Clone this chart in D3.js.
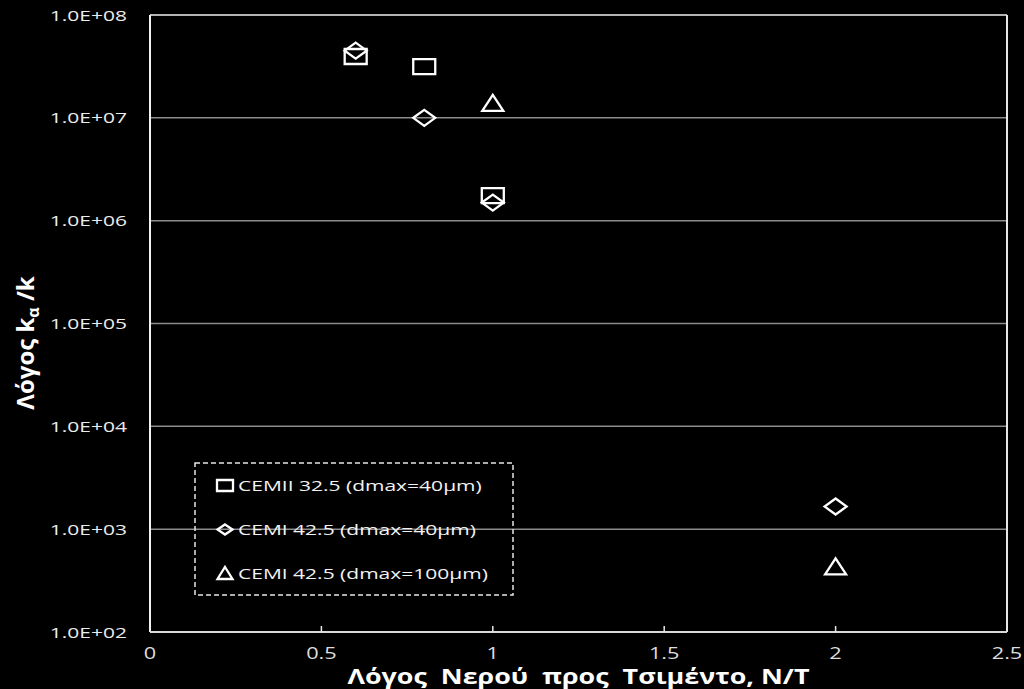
<!DOCTYPE html>
<html>
<head>
<meta charset="utf-8">
<script src="https://cdn.jsdelivr.net/npm/d3@7"></script>
<style>
  html, body { margin: 0; padding: 0; background: #000; }
  svg { display: block; }
</style>
</head>
<body>
<svg id="chart" width="1024" height="689"></svg>
<script>
// series: water/cement ratio vs k_a/k
var seriesNames = ["CEMII 32.5 (dmax=40μm)", "CEMI 42.5 (dmax=40μm)", "CEMI 42.5 (dmax=100μm)"];
var seriesShapes = ["square", "diamond", "triangle"];
var wcCemII40 = [0.6, 0.8, 1.0];
var kCemII40 = [3.95e7, 3.15e7, 1.75e6];
var wcCemI40 = [0.6, 0.8, 1.0, 2.0];
var kCemI40 = [4.5e7, 1.0e7, 1.5e6, 1.66e3];
var wcCemI100 = [1.0, 2.0];
var kCemI100 = [1.4e7, 4.35e2];

var xTicks = [0, 0.5, 1, 1.5, 2, 2.5];
var xTickLabels = ["0", "0.5", "1", "1.5", "2", "2.5"];
var yTicks = [1e2, 1e3, 1e4, 1e5, 1e6, 1e7, 1e8];
var yTickLabels = ["1.0E+02", "1.0E+03", "1.0E+04", "1.0E+05", "1.0E+06", "1.0E+07", "1.0E+08"];

var xTitle = "Λόγος  Νερού  προς  Τσιμέντο, Ν/Τ";

var svg = d3.select("#chart");
var plotL = 150, plotR = 1007, plotT = 15, plotB = 632;

var x = d3.scaleLinear().domain([0, 2.5]).range([plotL, plotR]);
var y = d3.scaleLog().domain([1e2, 1e8]).range([plotB, plotT]);

// marker outline centred on 0,0
function markerPath(shape, w, h) {
    var p = d3.path();
    var hw = w / 2, hh = h / 2;
    if (shape === "square") {
        p.rect(-hw, -hh, w, h);
    } else if (shape === "diamond") {
        p.moveTo(0, -hh);
        p.lineTo(hw, 0);
        p.lineTo(0, hh);
        p.lineTo(-hw, 0);
        p.closePath();
    } else {
        p.moveTo(0, -hh);
        p.lineTo(hw, hh);
        p.lineTo(-hw, hh);
        p.closePath();
    }
    return p.toString();
}

// the original picture is stretched sideways, so text gets a fixed length
function stretch(sel, perChar) {
    sel.attr("textLength", function () { return this.getComputedTextLength() * perChar; })
        .attr("lengthAdjust", "spacingAndGlyphs");
}

// gridlines
svg.append("g")
    .selectAll("line")
    .data(yTicks.slice(1, -1))
    .join("line")
    .attr("x1", plotL)
    .attr("x2", plotR)
    .attr("y1", function (d) { return y(d); })
    .attr("y2", function (d) { return y(d); })
    .attr("stroke", "#8c8c8c")
    .attr("stroke-width", 1.5);

// frame
svg.append("line").attr("x1", plotL).attr("x2", plotR).attr("y1", y(1e8)).attr("y2", y(1e8))
    .attr("stroke", "#b4b4b4").attr("stroke-width", 2);
svg.append("line").attr("x1", plotR).attr("x2", plotR).attr("y1", plotT).attr("y2", plotB)
    .attr("stroke", "#e6e6e6").attr("stroke-width", 2);
svg.append("line").attr("x1", plotL).attr("x2", plotL).attr("y1", plotT).attr("y2", plotB)
    .attr("stroke", "#f2f2f2").attr("stroke-width", 2);
svg.append("line").attr("x1", plotL).attr("x2", plotR).attr("y1", plotB).attr("y2", plotB)
    .attr("stroke", "#d9d9d9").attr("stroke-width", 2);

// x ticks (inside)
svg.append("g")
    .selectAll("line")
    .data(xTicks.slice(1, -1))
    .join("line")
    .attr("x1", function (d) { return x(d); })
    .attr("x2", function (d) { return x(d); })
    .attr("y1", plotB)
    .attr("y2", plotB - 6)
    .attr("stroke", "#e6e6e6")
    .attr("stroke-width", 1.5);

svg.append("g")
    .selectAll("text")
    .data(xTicks)
    .join("text")
    .attr("x", function (d) { return x(d); })
    .attr("y", 659)
    .attr("text-anchor", "middle")
    .attr("font-family", "Open Sans")
    .attr("font-size", 15.5)
    .attr("fill", "#dedede")
    .text(function (d, i) { return xTickLabels[i]; })
    .call(stretch, 1.4);

svg.append("g")
    .selectAll("text")
    .data(yTicks)
    .join("text")
    .attr("x", 127)
    .attr("y", function (d) { return y(d) + 5.5; })
    .attr("text-anchor", "end")
    .attr("font-family", "Open Sans")
    .attr("font-size", 15)
    .attr("fill", "#ececec")
    .text(function (d, i) { return yTickLabels[i]; })
    .call(stretch, 1.4);

// axis titles
svg.append("text")
    .attr("x", (plotL + plotR) / 2)
    .attr("y", 684)
    .attr("text-anchor", "middle")
    .attr("font-family", "Open Sans")
    .attr("font-weight", "bold")
    .attr("font-size", 20.5)
    .attr("fill", "#fff")
    .attr("textLength", 462)
    .attr("lengthAdjust", "spacingAndGlyphs")
    .style("white-space", "pre")
    .text(xTitle);

var yt = svg.append("text")
    .attr("transform", "translate(34,343) rotate(-90)")
    .attr("text-anchor", "middle")
    .attr("font-family", "Open Sans")
    .attr("font-weight", "bold")
    .attr("font-size", 24)
    .attr("fill", "#fff");
yt.append("tspan").text("Λόγος k");
yt.append("tspan").attr("font-size", 16).attr("dy", 5).text("α");
yt.append("tspan").attr("dy", -5).text(" /k");

// data points
var allSeries = [
    { xs: wcCemII40, ys: kCemII40 },
    { xs: wcCemI40, ys: kCemI40 },
    { xs: wcCemI100, ys: kCemI100 }
];
var plotSize = [[22, 15], [22, 16], [21, 16]];

allSeries.forEach(function (s, si) {
    svg.append("g")
        .selectAll("path")
        .data(s.xs)
        .join("path")
        .attr("transform", function (d, i) { return "translate(" + x(d) + "," + y(s.ys[i]) + ")"; })
        .attr("d", markerPath(seriesShapes[si], plotSize[si][0], plotSize[si][1]))
        .attr("fill", "none")
        .attr("stroke", "#fff")
        .attr("stroke-width", 2.3)
        .attr("stroke-linejoin", "miter");
});

// legend
svg.append("rect")
    .attr("x", 195)
    .attr("y", 463)
    .attr("width", 318)
    .attr("height", 132)
    .attr("fill", "none")
    .attr("stroke", "#e6e6e6")
    .attr("stroke-width", 1.5)
    .attr("stroke-dasharray", "5,3");

var legendSize = [[16, 11], [15, 10], [15, 12]];
var legendY = [485.5, 529.5, 573];

var leg = svg.append("g")
    .selectAll("g")
    .data(seriesNames)
    .join("g")
    .attr("transform", function (d, i) { return "translate(0," + legendY[i] + ")"; });

leg.append("path")
    .attr("transform", "translate(225,0)")
    .attr("d", function (d, i) { return markerPath(seriesShapes[i], legendSize[i][0], legendSize[i][1]); })
    .attr("fill", "none")
    .attr("stroke", "#fff")
    .attr("stroke-width", 2.3);

leg.append("text")
    .attr("x", 238)
    .attr("y", 5.5)
    .attr("font-family", "Open Sans")
    .attr("font-size", 15)
    .attr("fill", "#f2f2f2")
    .text(function (d) { return d; })
    .call(stretch, 1.4);
</script>
</body>
</html>
